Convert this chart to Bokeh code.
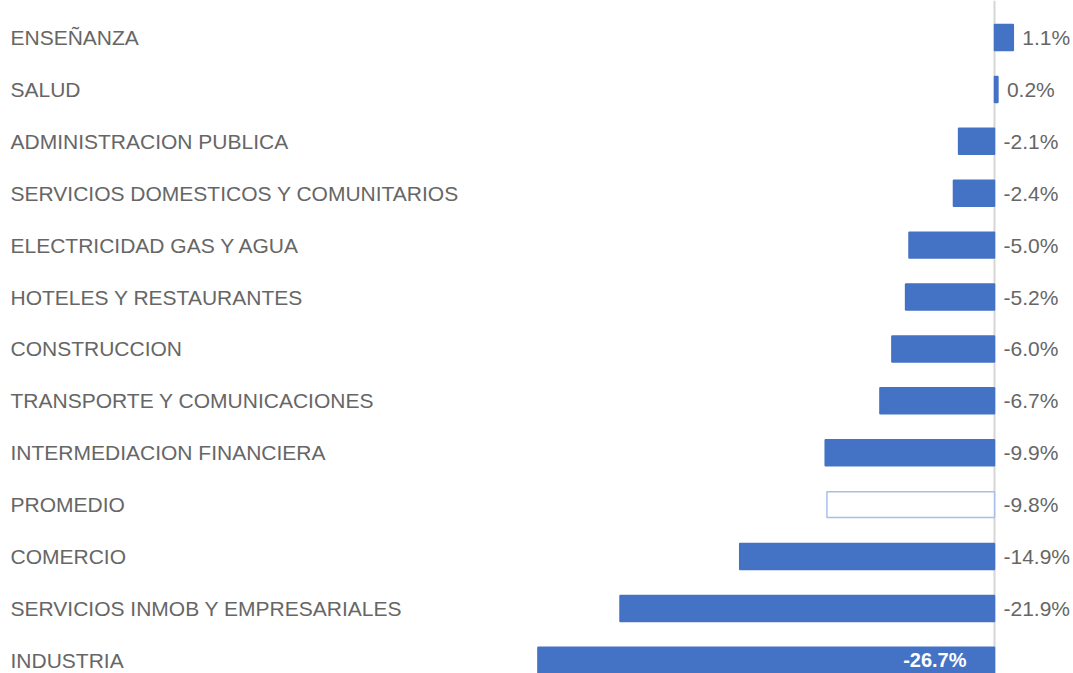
from bokeh.plotting import figure
from bokeh.models import Range1d, ColumnDataSource, Span
from bokeh.core.properties import value
from bokeh.embed import file_html
from bokeh.resources import INLINE

categories = [
    "ENSEÑANZA",
    "SALUD",
    "ADMINISTRACION PUBLICA",
    "SERVICIOS DOMESTICOS Y COMUNITARIOS",
    "ELECTRICIDAD GAS Y AGUA",
    "HOTELES Y RESTAURANTES",
    "CONSTRUCCION",
    "TRANSPORTE Y COMUNICACIONES",
    "INTERMEDIACION FINANCIERA",
    "PROMEDIO",
    "COMERCIO",
    "SERVICIOS INMOB Y EMPRESARIALES",
    "INDUSTRIA",
]
values = [1.1, 0.2, -2.1, -2.4, -5.0, -5.2, -6.0, -6.7, -9.9, -9.8, -14.9, -21.9, -26.7]

W, H = 1073, 673
PX_PER_UNIT = 17.1
ZERO_PX = 994
ROW_PX = 51.9
FIRST_ROW_PX = 37

x_start = -ZERO_PX / PX_PER_UNIT
x_end = (W - ZERO_PX) / PX_PER_UNIT
y_top = -FIRST_ROW_PX / ROW_PX
y_bottom = (H - FIRST_ROW_PX) / ROW_PX

n = len(categories)
ys = list(range(n))
min_idx = values.index(min(values))

fills = ["white" if c == "PROMEDIO" else "#4472C4" for c in categories]
lines = ["#a9bfe9" if c == "PROMEDIO" else "#4472C4" for c in categories]

bars = ColumnDataSource(dict(
    y=ys,
    left=[min(v, 0) for v in values],
    right=[max(v, 0) for v in values],
    fill=fills,
    line=lines,
))

out_idx = [i for i in range(n) if i != min_idx]
out_labels = ColumnDataSource(dict(
    x=[max(values[i], 0) for i in out_idx],
    y=[ys[i] for i in out_idx],
    t=[f"{values[i]:.1f}%" for i in out_idx],
))
in_labels = ColumnDataSource(dict(
    x=[0],
    y=[ys[min_idx]],
    t=[f"{values[min_idx]:.1f}%"],
))
cat_labels = ColumnDataSource(dict(
    x=[x_start] * n,
    y=ys,
    t=categories,
))

p = figure(width=W, height=H, output_backend="svg", toolbar_location=None,
           x_range=Range1d(x_start, x_end), y_range=Range1d(y_bottom, y_top),
           min_border=0, min_border_left=0, min_border_right=0,
           min_border_top=0, min_border_bottom=0)
p.axis.visible = False
p.grid.visible = False
p.outline_line_color = None
p.background_fill_color = "white"
p.border_fill_color = "white"

p.add_layout(Span(location=0, dimension="height", line_color="#d6d6d6",
                  line_width=2, level="underlay"))

p.hbar(y="y", left="left", right="right", height=0.5, source=bars,
       fill_color="fill", line_color="line", line_width=1.5)

p.text(x="x", y="y", text="t", source=cat_labels, x_offset=10,
       text_align="left", text_baseline="middle",
       text_font=value("Liberation Sans"), text_font_size="21px",
       text_color="#666666")

p.text(x="x", y="y", text="t", source=out_labels, x_offset=9,
       text_align="left", text_baseline="middle",
       text_font=value("Liberation Sans"), text_font_size="21px",
       text_color="#666666")

p.text(x="x", y="y", text="t", source=in_labels, x_offset=-28,
       text_align="right", text_baseline="middle",
       text_font=value("Liberation Sans"), text_font_size="20px",
       text_font_style="bold", text_color="white")

open("out.html", "w").write(file_html(p, INLINE))
